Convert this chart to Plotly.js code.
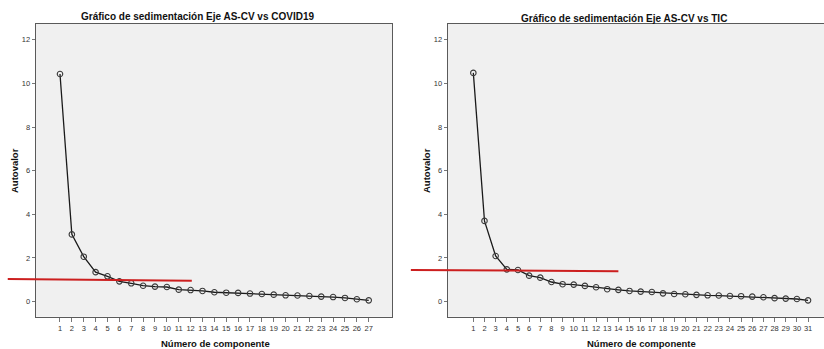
<!DOCTYPE html>
<html>
<head>
<meta charset="utf-8">
<script src="https://cdn.plot.ly/plotly-3.0.1.min.js"></script>
<style>html,body{margin:0;padding:0;background:#fff;}#chart{width:824px;height:349px;}</style>
</head>
<body>
<div id="chart"></div>
<script>
// ---- Data ----
const componentsCovid = [1,2,3,4,5,6,7,8,9,10,11,12,13,14,15,16,17,18,19,20,21,22,23,24,25,26,27];
const eigenCovid = [10.43,3.08,2.06,1.35,1.16,0.93,0.84,0.73,0.69,0.67,0.55,0.53,0.49,0.43,0.41,0.40,0.37,0.35,0.32,0.29,0.28,0.26,0.23,0.21,0.17,0.11,0.06];
const componentsTic = [1,2,3,4,5,6,7,8,9,10,11,12,13,14,15,16,17,18,19,20,21,22,23,24,25,26,27,28,29,30,31];
const eigenTic = [10.48,3.70,2.09,1.48,1.45,1.19,1.10,0.90,0.80,0.78,0.72,0.66,0.57,0.54,0.49,0.46,0.44,0.38,0.35,0.34,0.31,0.29,0.28,0.26,0.25,0.23,0.20,0.16,0.14,0.12,0.06];
const yTicks = [0,2,4,6,8,10,12];
// hand-drawn red cutoff lines (data units: [x0, x1], [y0, y1])
const redCovidX = [-3.4, 12.1], redCovidY = [1.04, 0.96];
const redTicX = [-4.6, 14.0], redTicY = [1.45, 1.39];
const titleCovid = 'Gráfico de sedimentación Eje AS-CV vs COVID19';
const titleTic = 'Gráfico de sedimentación Eje AS-CV vs TIC';
const yTitle = 'Autovalor';
const xTitle = 'Número de componente';

// ---- Layout ----
const W = 824, H = 349;
const FONT = 'Arial, "Liberation Sans", sans-serif';
const xr1 = [-1.02, 28.96], xr2 = [-1.27, 32.43], yr = [-0.69, 12.72];
const yDom = [(H - 316.7) / H, (H - 24) / H];
const xDom1 = [36 / W, 392 / W], xDom2 = [448 / W, 1];

function frac(v, r) { return (v - r[0]) / (r[1] - r[0]); }

const lineStyle = {color: '#1a1a1a', width: 1.3};
const markerStyle = {symbol: 'circle-open', size: 5.5, color: '#3a3a3a', line: {width: 1.1, color: '#3a3a3a'}};

const traces = [
  {x: componentsCovid, y: eigenCovid, xaxis: 'x', yaxis: 'y', type: 'scatter', mode: 'lines+markers', line: lineStyle, marker: markerStyle, hoverinfo: 'x+y'},
  {x: componentsTic, y: eigenTic, xaxis: 'x2', yaxis: 'y2', type: 'scatter', mode: 'lines+markers', line: lineStyle, marker: markerStyle, hoverinfo: 'x+y'}
];

const tickFont = {family: FONT, size: 7.5, color: '#333'};
function xAxis(dom, rng, cats, anchor) {
  return {domain: dom, range: rng, anchor: anchor, tickmode: 'array', tickvals: cats, ticktext: cats.map(String),
    showgrid: false, zeroline: false, showline: true, linecolor: '#5a5a5a', linewidth: 1.3, mirror: true,
    ticks: 'outside', ticklen: 4, tickwidth: 0.8, tickcolor: '#555', tickfont: tickFont, fixedrange: true};
}
function yAxis(anchor, mirror) {
  return {domain: yDom, range: yr, anchor: anchor, tickmode: 'array', tickvals: yTicks, ticktext: yTicks.map(String),
    showgrid: false, zeroline: false, showline: true, linecolor: '#5a5a5a', linewidth: 1.3, mirror: mirror,
    ticks: 'outside', ticklen: 3, tickwidth: 0.8, tickcolor: '#555', tickfont: tickFont, fixedrange: true};
}

function redShape(xref, yref, xs, ys, xr) {
  return {type: 'line', xref: xref + ' domain', yref: yref + ' domain',
    x0: frac(xs[0], xr), x1: frac(xs[1], xr), y0: frac(ys[0], yr), y1: frac(ys[1], yr),
    line: {color: '#cc1f1f', width: 2}, layer: 'above'};
}

const titleFont = {family: FONT, size: 10, color: '#111'};
const axTitleFont = {family: FONT, size: 9.5, color: '#111'};

const layout = {
  width: W, height: H,
  margin: {l: 0, r: 0, t: 0, b: 0},
  paper_bgcolor: '#ffffff', plot_bgcolor: '#f0f0f0',
  showlegend: false,
  xaxis: xAxis(xDom1, xr1, componentsCovid, 'y'),
  yaxis: yAxis('x', true),
  xaxis2: xAxis(xDom2, xr2, componentsTic, 'y2'),
  yaxis2: yAxis('x2', false),
  shapes: [
    redShape('x', 'y', redCovidX, redCovidY, xr1),
    redShape('x2', 'y2', redTicX, redTicY, xr2)
  ],
  annotations: [
    {text: '<b>' + titleCovid + '</b>', xref: 'paper', yref: 'paper', x: 197.5 / W, y: 1 - 16.5 / H, xanchor: 'center', yanchor: 'middle', showarrow: false, font: titleFont},
    {text: '<b>' + titleTic + '</b>', xref: 'paper', yref: 'paper', x: 623.7 / W, y: 1 - 18 / H, xanchor: 'center', yanchor: 'middle', showarrow: false, font: titleFont},
    {text: '<b>' + yTitle + '</b>', xref: 'paper', yref: 'paper', x: 14 / W, y: 1 - 171 / H, xanchor: 'center', yanchor: 'middle', textangle: -90, showarrow: false, font: axTitleFont},
    {text: '<b>' + yTitle + '</b>', xref: 'paper', yref: 'paper', x: 426 / W, y: 1 - 171 / H, xanchor: 'center', yanchor: 'middle', textangle: -90, showarrow: false, font: axTitleFont},
    {text: '<b>' + xTitle + '</b>', xref: 'paper', yref: 'paper', x: 215 / W, y: 1 - 343 / H, xanchor: 'center', yanchor: 'middle', showarrow: false, font: axTitleFont},
    {text: '<b>' + xTitle + '</b>', xref: 'paper', yref: 'paper', x: 641 / W, y: 1 - 343 / H, xanchor: 'center', yanchor: 'middle', showarrow: false, font: axTitleFont}
  ]
};

Plotly.newPlot('chart', traces, layout, {displayModeBar: false, staticPlot: true});
</script>
</body>
</html>
